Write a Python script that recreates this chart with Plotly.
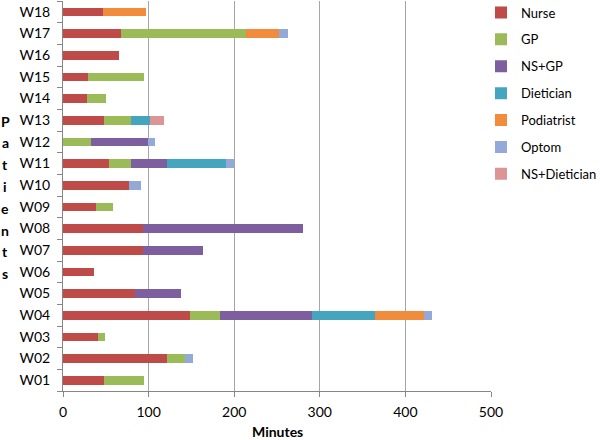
import plotly.graph_objects as go

patients = ["W01", "W02", "W03", "W04", "W05", "W06", "W07", "W08", "W09",
            "W10", "W11", "W12", "W13", "W14", "W15", "W16", "W17", "W18"]

nurse = [48, 122, 41, 148, 84, 36, 94, 94, 38, 77, 54, 0, 48, 28, 29, 65, 68, 47]
gp = [47, 20, 8, 35, 0, 0, 0, 0, 20, 0, 26, 33, 32, 22, 66, 0, 146, 0]
ns_gp = [0, 0, 0, 108, 54, 0, 69, 186, 0, 0, 41, 66, 0, 0, 0, 0, 0, 0]
dietician = [0, 0, 0, 74, 0, 0, 0, 0, 0, 0, 69, 0, 22, 0, 0, 0, 0, 0]
podiatrist = [0, 0, 0, 57, 0, 0, 0, 0, 0, 0, 0, 0, 0, 0, 0, 0, 38, 50]
optom = [0, 10, 0, 9, 0, 0, 0, 0, 0, 14, 10, 9, 0, 0, 0, 0, 11, 0]
ns_dietician = [0, 0, 0, 0, 0, 0, 0, 0, 0, 0, 0, 0, 16, 0, 0, 0, 0, 0]

series = [
    ("Nurse", nurse, "#BE4B48"),
    ("GP", gp, "#9BBB59"),
    ("NS+GP", ns_gp, "#7D5FA0"),
    ("Dietician", dietician, "#45A5BF"),
    ("Podiatrist", podiatrist, "#F08C3C"),
    ("Optom", optom, "#93A9D8"),
    ("NS+Dietician", ns_dietician, "#DC9494"),
]

x_ticks = [0, 100, 200, 300, 400, 500]

FONT = "Lato, 'Open Sans', Arial, sans-serif"

W, H = 600, 440
PLOT_L, PLOT_R, PLOT_T, PLOT_B = 63, 491, 1, 391
PW = PLOT_R - PLOT_L
PH = PLOT_B - PLOT_T

fig = go.Figure()
for name, vals, col in series:
    fig.add_trace(go.Bar(
        y=patients, x=vals, name=name, orientation="h",
        marker=dict(color=col, line=dict(width=0)),
        legendgroup=name,
    ))

fig.update_layout(
    width=W, height=H,
    barmode="stack", bargap=0.6,
    plot_bgcolor="white", paper_bgcolor="white",
    margin=dict(l=PLOT_L, r=W - PLOT_R, t=PLOT_T, b=H - PLOT_B, pad=0, autoexpand=False),
    font=dict(family=FONT, size=14, color="#000000"),
    showlegend=True,
    legend=dict(x=(481 - PLOT_L) / PW, y=1 + 3.5 / PH, xanchor="left", yanchor="top",
                traceorder="grouped", tracegroupgap=7,
                font=dict(size=13), itemwidth=30, bgcolor="rgba(0,0,0,0)"),
    xaxis=dict(range=[0, 500], tickvals=x_ticks, showgrid=True,
               gridcolor="#A6A6A6", gridwidth=1, zeroline=False,
               showline=True, linecolor="#868686", linewidth=1,
               ticks="outside", ticklen=5, tickcolor="#868686",
               tickfont=dict(size=14), ticklabelstandoff=3, automargin=False),
    yaxis=dict(type="category", categoryorder="array", categoryarray=patients,
               showgrid=False, zeroline=False,
               showline=True, linecolor="#868686", linewidth=1,
               ticks="outside", ticklen=5, tickcolor="#868686",
               tickson="boundaries", tickfont=dict(size=14),
               ticklabelstandoff=9, automargin=False),
)

def py(page_y):
    return 1 - (page_y - PLOT_T) / PH

fig.add_annotation(
    text="<b>Minutes</b>", xref="paper", yref="paper",
    x=(277 - PLOT_L) / PW, y=py(431), xanchor="center", yanchor="middle",
    showarrow=False, font=dict(size=14, family=FONT),
)

label = "Patients"
for i, ch in enumerate(label):
    fig.add_annotation(
        text="<b>%s</b>" % ch, xref="paper", yref="paper",
        x=(5 - PLOT_L) / PW, y=py(121 + i * 21.8),
        xanchor="center", yanchor="middle", showarrow=False,
        font=dict(size=14, family=FONT),
    )

fig.write_html("out.html", config={"displayModeBar": False},
               post_script="document.body.style.margin='0px';")
